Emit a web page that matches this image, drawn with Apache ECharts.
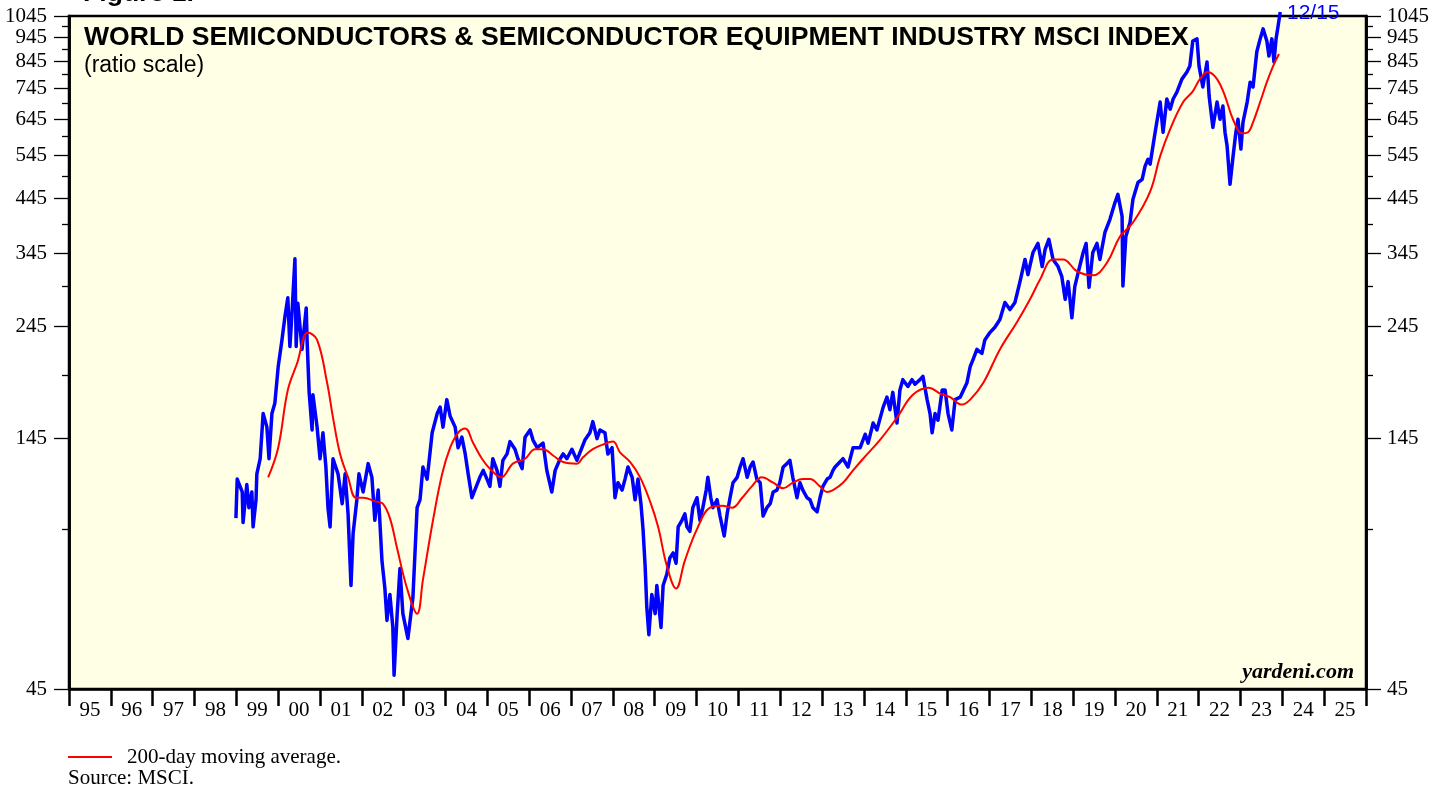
<!DOCTYPE html>
<html>
<head>
<meta charset="utf-8">
<title>World Semiconductors MSCI Index</title>
<script src="https://cdn.jsdelivr.net/npm/echarts@6/dist/echarts.min.js"></script>
<style>
  html, body { margin: 0; padding: 0; background: #fff; }
  #chart { width: 1446px; height: 788px; }
</style>
</head>
<body>
<div id="chart"></div>
<script>
// index level, [decimal year, value]
const msciIndex = [
  [1998.99,100],[1999.02,120],[1999.06,121],[1999.14,113],[1999.16,98],[1999.25,117],[1999.30,105],[1999.37,113],
  [1999.40,96],[1999.47,109],[1999.49,123],[1999.57,132],[1999.64,163],[1999.73,153],[1999.78,132],[1999.85,163],
  [1999.92,171],[2000.00,203],[2000.09,230],[2000.16,256],[2000.23,280],[2000.28,223],[2000.33,261],[2000.40,336],
  [2000.43,223],[2000.47,273],[2000.57,220],[2000.67,267],[2000.69,230],[2000.74,180],[2000.81,151],[2000.83,178],
  [2000.93,153],[2001.00,132],[2001.07,149],[2001.14,127],[2001.19,105],[2001.24,96],[2001.31,132],[2001.43,123],
  [2001.53,107],[2001.60,123],[2001.67,102],[2001.74,73],[2001.79,93],[2001.88,109],[2001.93,123],[2002.03,113],
  [2002.15,129],[2002.24,121],[2002.31,99],[2002.39,114],[2002.48,82],[2002.55,72],[2002.60,62],[2002.67,70],
  [2002.74,60],[2002.77,48],[2002.84,63],[2002.91,79],[2002.98,64],[2003.10,57],[2003.22,69],[2003.32,105],
  [2003.39,109],[2003.46,127],[2003.56,120],[2003.68,149],[2003.80,163],[2003.87,168],[2003.94,153],[2004.03,174],
  [2004.11,161],[2004.23,153],[2004.30,139],[2004.39,146],[2004.47,135],[2004.54,123],[2004.63,110],[2004.70,114],
  [2004.82,121],[2004.90,125],[2004.99,120],[2005.06,116],[2005.13,132],[2005.23,125],[2005.30,116],[2005.37,131],
  [2005.47,135],[2005.54,143],[2005.66,138],[2005.73,132],[2005.83,126],[2005.90,146],[2006.02,151],[2006.09,144],
  [2006.19,139],[2006.33,142],[2006.42,125],[2006.54,113],[2006.62,125],[2006.74,132],[2006.81,135],[2006.90,132],
  [2007.02,138],[2007.14,131],[2007.26,139],[2007.33,144],[2007.45,149],[2007.52,157],[2007.62,145],[2007.69,151],
  [2007.81,149],[2007.88,135],[2007.98,139],[2008.05,110],[2008.12,118],[2008.22,114],[2008.29,120],[2008.36,127],
  [2008.46,121],[2008.53,109],[2008.60,120],[2008.67,107],[2008.72,95],[2008.77,80],[2008.81,66],[2008.86,58],
  [2008.93,70],[2009.01,64],[2009.05,73],[2009.15,60],[2009.20,73],[2009.29,77],[2009.36,83],[2009.44,85],
  [2009.51,81],[2009.56,96],[2009.65,99],[2009.72,102],[2009.77,96],[2009.84,94],[2009.91,105],[2010.01,110],
  [2010.08,99],[2010.15,105],[2010.23,114],[2010.27,121],[2010.34,110],[2010.39,105],[2010.49,109],[2010.56,101],
  [2010.66,92],[2010.73,102],[2010.80,110],[2010.87,118],[2010.97,121],[2011.04,127],[2011.11,132],[2011.21,121],
  [2011.28,127],[2011.35,130],[2011.44,120],[2011.52,118],[2011.59,101],[2011.68,105],[2011.76,107],[2011.83,113],
  [2011.92,114],[2011.99,118],[2012.07,127],[2012.16,129],[2012.23,131],[2012.30,121],[2012.40,110],[2012.47,118],
  [2012.54,114],[2012.64,110],[2012.71,109],[2012.78,105],[2012.88,103],[2012.95,110],[2013.02,116],[2013.12,120],
  [2013.19,121],[2013.26,125],[2013.31,127],[2013.50,132],[2013.62,127],[2013.74,139],[2013.91,139],[2014.03,148],
  [2014.10,142],[2014.22,156],[2014.31,151],[2014.46,168],[2014.55,176],[2014.62,166],[2014.69,180],[2014.79,156],
  [2014.86,182],[2014.93,191],[2015.05,185],[2015.15,191],[2015.22,187],[2015.34,191],[2015.41,194],[2015.51,174],
  [2015.58,163],[2015.63,149],[2015.70,163],[2015.77,158],[2015.87,182],[2015.94,182],[2016.01,163],[2016.10,151],
  [2016.18,174],[2016.30,176],[2016.42,185],[2016.46,188],[2016.54,203],[2016.61,210],[2016.70,220],[2016.82,216],
  [2016.89,230],[2017.01,238],[2017.13,244],[2017.25,253],[2017.37,274],[2017.49,265],[2017.61,274],[2017.73,302],
  [2017.85,335],[2017.92,312],[2018.04,346],[2018.16,361],[2018.26,324],[2018.33,351],[2018.42,368],[2018.52,335],
  [2018.64,324],[2018.73,309],[2018.81,278],[2018.88,302],[2018.97,255],[2019.04,295],[2019.12,315],[2019.24,346],
  [2019.31,361],[2019.38,294],[2019.47,346],[2019.57,361],[2019.64,335],[2019.76,380],[2019.88,404],[2020.00,437],
  [2020.07,454],[2020.17,410],[2020.19,296],[2020.26,373],[2020.36,398],[2020.43,444],[2020.55,480],[2020.65,487],
  [2020.72,518],[2020.79,535],[2020.84,523],[2020.96,607],[2021.08,699],[2021.15,607],[2021.24,709],[2021.32,676],
  [2021.39,709],[2021.48,732],[2021.60,778],[2021.72,804],[2021.79,827],[2021.86,930],[2021.96,939],[2022.01,827],
  [2022.10,750],[2022.20,843],[2022.25,719],[2022.34,621],[2022.44,699],[2022.51,645],[2022.58,686],[2022.63,607],
  [2022.68,569],[2022.75,476],[2022.82,540],[2022.89,607],[2022.94,645],[2023.01,561],[2023.06,636],[2023.16,699],
  [2023.23,767],[2023.30,750],[2023.39,884],[2023.47,939],[2023.54,984],[2023.63,930],[2023.68,867],[2023.75,939],
  [2023.80,843],[2023.85,939],[2023.90,998],[2023.95,1065]
]

// 200-day moving average
const movingAvg = [
  [1999.76,121],[2000.00,139],[2000.23,182],[2000.45,206],[2000.71,238],[2000.93,230],[2001.17,188],[2001.31,160],
  [2001.48,135],[2001.67,121],[2001.86,110],[2002.03,110],[2002.34,108],[2002.50,107],[2002.67,100],[2002.84,87],
  [2003.08,72],[2003.32,64],[2003.46,75],[2003.70,99],[2003.92,123],[2004.11,139],[2004.30,149],[2004.47,152],
  [2004.66,142],[2004.87,132],[2005.06,126],[2005.33,121],[2005.61,129],[2005.90,132],[2006.14,138],[2006.33,138],
  [2006.57,134],[2006.81,130],[2007.14,129],[2007.29,133],[2007.52,138],[2007.76,141],[2008.00,143],[2008.17,136],
  [2008.41,130],[2008.65,121],[2008.89,108],[2009.08,96],[2009.29,80],[2009.51,72],[2009.72,82],[2010.01,95],
  [2010.32,105],[2010.61,106],[2010.85,105],[2011.09,110],[2011.32,116],[2011.56,121],[2011.83,118],[2012.07,115],
  [2012.30,118],[2012.54,120],[2012.71,120],[2012.95,116],[2013.12,113],[2013.26,114],[2013.50,118],[2013.74,125],
  [2013.98,132],[2014.38,144],[2014.79,160],[2015.17,178],[2015.55,184],[2015.82,179],[2016.06,176],[2016.34,170],
  [2016.54,174],[2016.85,188],[2017.25,220],[2017.66,250],[2017.97,278],[2018.21,305],[2018.52,335],[2018.76,335],
  [2019.09,317],[2019.47,311],[2019.81,330],[2020.12,373],[2020.43,398],[2020.84,460],[2021.08,543],[2021.32,616],
  [2021.63,699],[2021.86,735],[2022.03,778],[2022.22,804],[2022.44,778],[2022.63,719],[2022.82,645],[2023.04,604],
  [2023.18,607],[2023.30,636],[2023.47,699],[2023.63,767],[2023.78,827],[2023.92,875]
]

const yearTicks = [1995,1996,1997,1998,1999,2000,2001,2002,2003,2004,2005,2006,2007,2008,2009,2010,
  2011,2012,2013,2014,2015,2016,2017,2018,2019,2020,2021,2022,2023,2024,2025,2026]
const yearLabels = ['95','96','97','98','99','00','01','02','03','04','05','06','07','08','09','10',
  '11','12','13','14','15','16','17','18','19','20','21','22','23','24','25']
const majorTicks = [45,145,245,345,445,545,645,745,845,945,1045]
const minorTicks = [95,195,295,395,495,595,695,795,895,995]

const SERIF = '"Liberation Serif", "Times New Roman", serif'
const SANS = '"Liberation Sans", Arial, sans-serif'

// ratio scale: plot log10 of the values on a plain value axis
const lg = v => Math.log10(v)
const yMin = lg(45) - 1e-9
const yMax = lg(1045) + 1e-9

function yAxis (position, ticks, len, labels) {
    return {
        type: 'value',
        position,
        min: yMin,
        max: yMax,
        axisLine: { show: true, lineStyle: { color: '#000', width: 2.5 } },
        axisTick: {
            show: true,
            customValues: ticks.map(lg),
            length: len,
            lineStyle: { color: '#000', width: 1.3 }
        },
        axisLabel: labels ? {
            show: true,
            customValues: ticks.map(lg),
            formatter: v => String(Math.round(Math.pow(10, v))),
            fontFamily: SERIF,
            fontSize: 21,
            color: '#000',
            margin: position === 'left' ? 22 : 21,
            padding: [3, 0, 0, 0],
            hideOverlap: false
        } : { show: false },
        splitLine: { show: false }
    }
}

const chart = echarts.init(document.getElementById('chart'))
const option = {
    animation: false,
    backgroundColor: '#fff',
    grid: {
        left: 69,
        right: 80,
        top: 16,
        bottom: 99,
        show: true,
        backgroundColor: '#ffffe6',
        borderColor: '#000',
        borderWidth: 2.5
    },
    xAxis: {
        type: 'value',
        min: 1995,
        max: 2026,
        axisLine: { show: true, lineStyle: { color: '#000', width: 2.5 } },
        axisTick: {
            show: true,
            customValues: yearTicks,
            length: 17,
            lineStyle: { color: '#000', width: 2.5 }
        },
        axisLabel: {
            customValues: yearTicks.slice(0, -1).map(y => y + 0.5),
            formatter: v => yearLabels[Math.floor(v) - 1995],
            fontFamily: SERIF,
            fontSize: 21,
            color: '#000',
            margin: 11
        },
        splitLine: { show: false }
    },
    yAxis: [
        yAxis('left', majorTicks, 15, true),
        yAxis('left', minorTicks, 7, false),
        yAxis('right', majorTicks, 15, true),
        yAxis('right', minorTicks, 7, false)
    ],
    series: [
        {
            name: 'MSCI index',
            type: 'line',
            data: msciIndex.map(d => [d[0], lg(d[1])]),
            symbol: 'none',
            clip: false,
            lineStyle: { color: '#0000ff', width: 3.5, join: 'round' },
            z: 2
        },
        {
            name: '200-day moving average',
            type: 'line',
            data: movingAvg.map(d => [d[0], lg(d[1])]),
            symbol: 'none',
            smooth: 0.4,
            lineStyle: { color: '#ff0000', width: 2 },
            z: 3
        }
    ],
    graphic: [
        { type: 'text', x: 83, y: -19.5, style: { text: 'Figure 1.', fontFamily: SANS, fontWeight: 'bold', fontSize: 26.6, fill: '#000', align: 'left', verticalAlign: 'top' } },
        { type: 'text', x: 84, y: 24.5, z: 10, style: { text: 'WORLD SEMICONDUCTORS & SEMICONDUCTOR EQUIPMENT INDUSTRY MSCI INDEX', fontFamily: SANS, fontWeight: 'bold', fontSize: 26.6, fill: '#000', align: 'left', verticalAlign: 'top' } },
        { type: 'text', x: 84, y: 54.5, z: 10, style: { text: '(ratio scale)', fontFamily: SANS, fontSize: 23, fill: '#000', align: 'left', verticalAlign: 'top' } },
        { type: 'text', x: 1287, y: 3, z: 10, style: { text: '12/15', fontFamily: SANS, fontSize: 21, fill: '#0000ff', align: 'left', verticalAlign: 'top' } },
        { type: 'text', x: 1354, y: 661.5, z: 10, style: { text: 'yardeni.com', fontFamily: SERIF, fontWeight: 'bold', fontStyle: 'italic', fontSize: 22, fill: '#000', align: 'right', verticalAlign: 'top' } },
        { type: 'line', shape: { x1: 68, y1: 757, x2: 112, y2: 757 }, style: { stroke: '#ff0000', lineWidth: 2 } },
        { type: 'text', x: 127, y: 746.5, style: { text: '200-day moving average.', fontFamily: SERIF, fontSize: 21, fill: '#000', align: 'left', verticalAlign: 'top' } },
        { type: 'text', x: 68, y: 768, style: { text: 'Source: MSCI.', fontFamily: SERIF, fontSize: 21, fill: '#000', align: 'left', verticalAlign: 'top' } }
    ]
}
chart.setOption(option)
</script>
</body>
</html>
